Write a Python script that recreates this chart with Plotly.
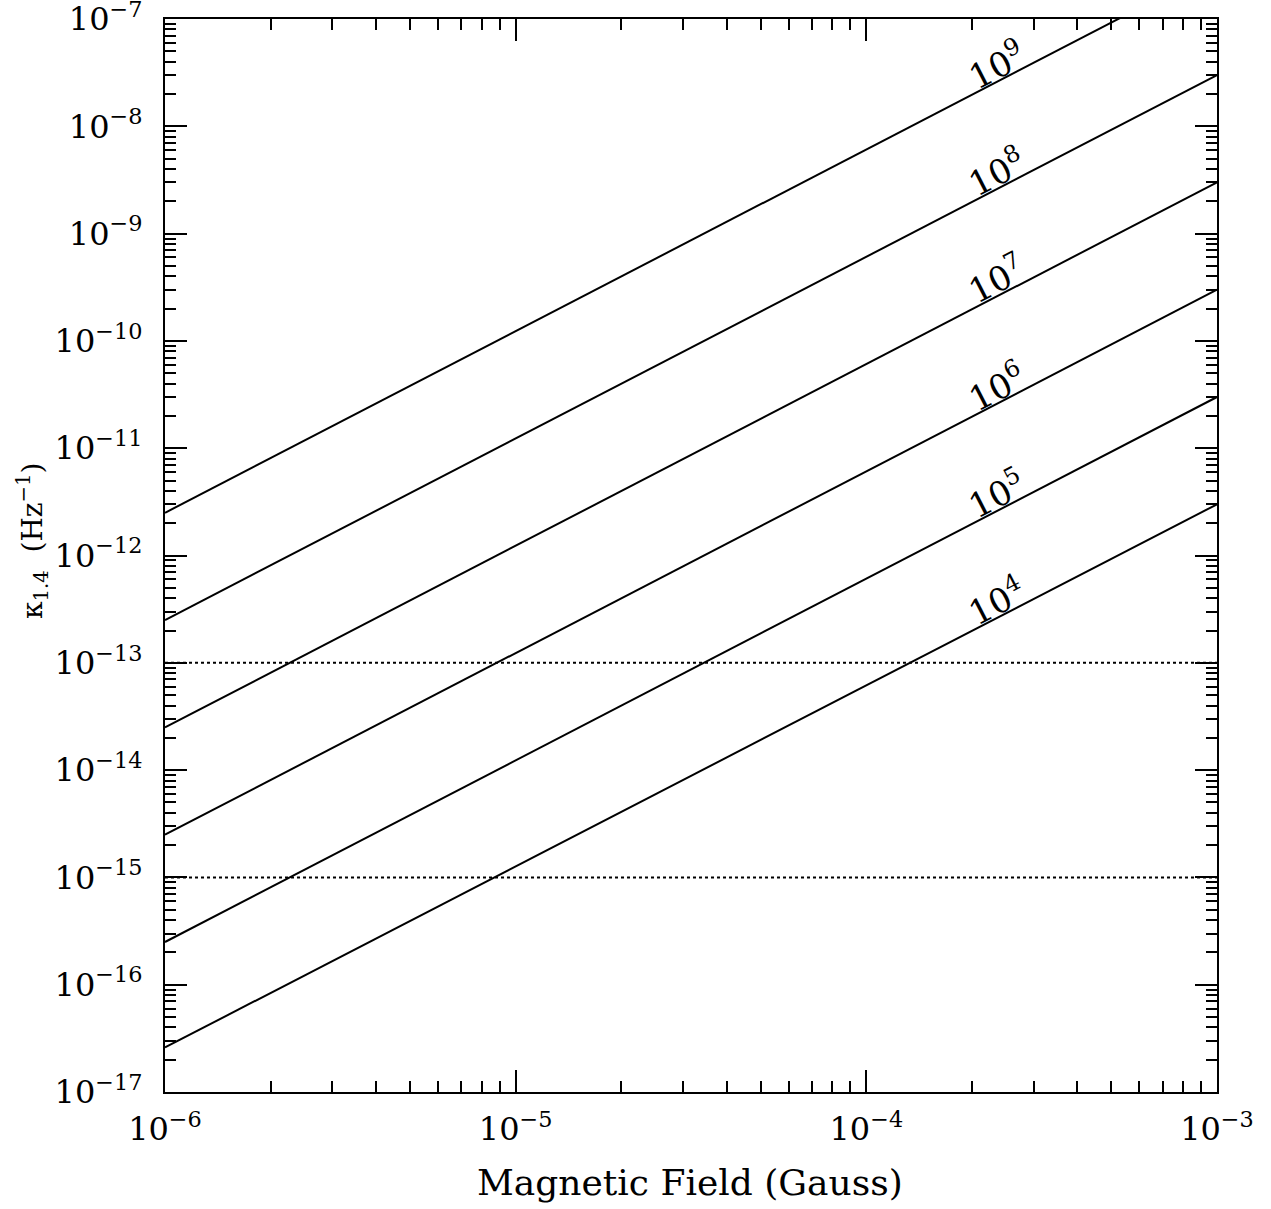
import numpy as np
import plotly.graph_objects as go

# ---- data ----
B_ends = [1e-6, 1e-3]                       # Gauss, line end points
line_labels = ["10<sup>9</sup>", "10<sup>8</sup>", "10<sup>7</sup>",
               "10<sup>6</sup>", "10<sup>5</sup>", "10<sup>4</sup>"]
kappa_at_Bmin = [2.5e-12, 2.5e-13, 2.5e-14, 2.5e-15, 2.5e-16, 2.6e-17]
kappa_at_Bmax = [3.0e-7, 3.0e-8, 3.0e-9, 3.0e-10, 3.0e-11, 3.0e-12]
kappa_ref_levels = [1e-13, 1e-15]           # dotted horizontal lines

x_tickvals = [1e-6, 1e-5, 1e-4, 1e-3]
x_ticktext = ["10<sup>−6</sup>", "10<sup>−5</sup>", "10<sup>−4</sup>", "10<sup>−3</sup>"]
y_exponents = [-17, -16, -15, -14, -13, -12, -11, -10, -9, -8, -7]
y_tickvals = [10.0 ** e for e in y_exponents]
y_ticktext = ["10<sup>−%d</sup>" % (-e) for e in y_exponents]

x_title = "Magnetic Field (Gauss)"
y_title = "κ<sub>1.4</sub>  (Hz<sup>−1</sup>)"

# ---- style ----
FONT = "DejaVu Serif"
label_B = 2.35e-4
label_offset_dec = 0.17
EPS = 1e-6

W, H = 1271, 1209
ML, MR, MT, MB = 165, 54, 19, 117
PW = W - ML - MR
PH = H - MT - MB

def minor_vals(lo, hi):
    out = []
    for e in range(lo, hi):
        for m in range(2, 10):
            out.append(m * 10.0 ** e)
    return out

fig = go.Figure()

for lbl, k0, k1 in zip(line_labels, kappa_at_Bmin, kappa_at_Bmax):
    fig.add_trace(go.Scatter(x=B_ends, y=[k0, k1], mode="lines",
                             line=dict(color="black", width=2),
                             showlegend=False, hoverinfo="skip"))
    lx0, lx1 = np.log10(B_ends)
    ly0, ly1 = np.log10(k0), np.log10(k1)
    lx = np.log10(label_B)
    ly = ly0 + (ly1 - ly0) * (lx - lx0) / (lx1 - lx0) + label_offset_dec
    fig.add_annotation(x=lx, y=ly, text=lbl, showarrow=False,
                       textangle=-27.35, font=dict(family=FONT, size=34, color="black"),
                       xref="x", yref="y")

for lev in kappa_ref_levels:
    fig.add_trace(go.Scatter(x=B_ends, y=[lev, lev], mode="lines",
                             line=dict(color="black", width=2, dash="dot"),
                             showlegend=False, hoverinfo="skip"))

axis_common = dict(
    type="log", showline=True, linewidth=2, linecolor="black", mirror="allticks",
    ticks="inside", ticklen=22, tickwidth=2, tickcolor="black",
    showgrid=False, zeroline=False, ticklabeloverflow="allow", automargin=False,
    tickfont=dict(family=FONT, size=32, color="black"),
)

fig.update_xaxes(**axis_common, range=[-6 - EPS, -3 + EPS], tickmode="array",
                 tickvals=x_tickvals, ticktext=x_ticktext, ticklabelstandoff=8,
                 minor=dict(tickmode="array", tickvals=minor_vals(-6, -3),
                            ticks="inside", ticklen=11, tickwidth=2, tickcolor="black",
                            showgrid=False))
fig.update_yaxes(**axis_common, range=[-17 - EPS, -7 + EPS], tickmode="array",
                 tickvals=y_tickvals, ticktext=y_ticktext, ticklabelstandoff=14,
                 minor=dict(tickmode="array", tickvals=minor_vals(-17, -7),
                            ticks="inside", ticklen=11, tickwidth=2, tickcolor="black",
                            showgrid=False))

# axis titles as annotations for exact placement
fig.add_annotation(xref="paper", yref="paper",
                   x=(690 - ML) / PW, y=(H - MB - 1182) / PH,
                   text=x_title, showarrow=False, xanchor="center", yanchor="middle",
                   font=dict(family=FONT, size=36, color="black"))
fig.add_annotation(xref="paper", yref="paper",
                   x=(32 - ML) / PW, y=(H - MB - 541) / PH,
                   text=y_title, showarrow=False, textangle=-90,
                   xanchor="center", yanchor="middle",
                   font=dict(family=FONT, size=28, color="black"))

fig.update_layout(width=W, height=H,
                  margin=dict(l=ML, r=MR, t=MT, b=MB, autoexpand=False),
                  paper_bgcolor="white", plot_bgcolor="white")

fig.write_html("out.html", config={"displayModeBar": False, "staticPlot": True})

# remove the default page margin so the figure fills the window exactly
with open("out.html", "r", encoding="utf-8") as f:
    html = f.read()
html = html.replace("<body>", '<body style="margin:0;padding:0;overflow:hidden">', 1)
with open("out.html", "w", encoding="utf-8") as f:
    f.write(html)
